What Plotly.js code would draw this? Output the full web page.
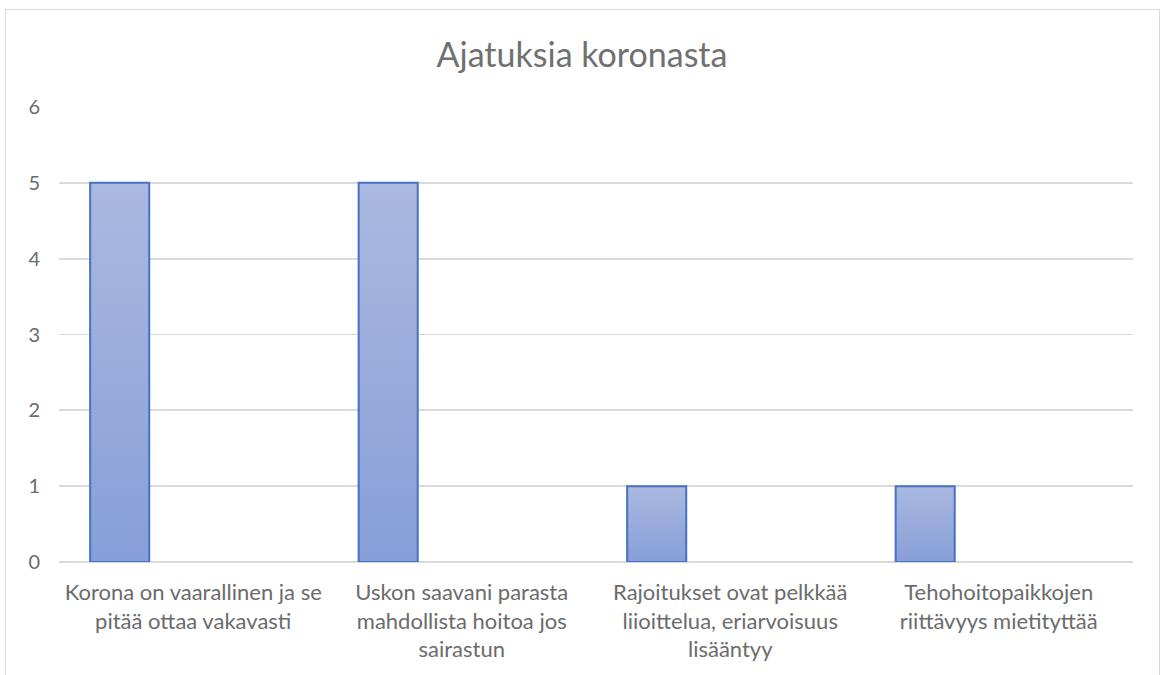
<!DOCTYPE html>
<html>
<head>
<meta charset="utf-8">
<script src="https://cdn.plot.ly/plotly-3.0.1.min.js"></script>
<style>
  html, body { margin: 0; padding: 0; background: #fff; overflow: hidden; width: 1165px; height: 675px; }
  #chart { position: absolute; left: 5px; top: 9px; width: 1155px; height: 700px;
           border: 1.5px solid #d9d9d9; box-sizing: border-box; }
</style>
</head>
<body>
<div id="chart"></div>
<script>
const chartTitle = "Ajatuksia koronasta";
const categories = [
  "Korona on vaarallinen ja se<br>pitää ottaa vakavasti",
  "Uskon saavani parasta<br>mahdollista hoitoa jos<br>sairastun",
  "Rajoitukset ovat pelkkää<br>liioittelua, eriarvoisuus<br>lisääntyy",
  "Tehohoitopaikkojen<br>riittävyys mietityttää"
];
const counts = [5, 5, 1, 1];
const yTicks = [0, 1, 2, 3, 4, 5, 6];

const FONT = "Lato, 'Open Sans', sans-serif";

const trace = {
  type: "bar",
  x: categories,
  y: counts,
  width: 0.22,
  offset: -0.384,
  marker: { color: "#98acdc", line: { color: "#4472c4", width: 2 } },
  hoverinfo: "x+y"
};

const layout = {
  width: 1152, height: 697,
  margin: { l: 53, r: 25, t: 97, b: 145 },
  paper_bgcolor: "#ffffff",
  plot_bgcolor: "#ffffff",
  showlegend: false,
  title: { text: chartTitle, x: 0.5, xanchor: "center", y: 0.935, yanchor: "middle",
           font: { family: FONT, size: 34, color: "#707070" } },
  xaxis: { type: "category", showgrid: false, zeroline: false, showline: false, ticks: "",
           tickfont: { family: FONT, size: 22, color: "#6b6b6b" }, ticklabelstandoff: 15,
           tickangle: 0 },
  yaxis: { range: [0, 6], tickvals: yTicks, showgrid: true, gridcolor: "#d9d9d9", gridwidth: 1.8,
           zeroline: true, zerolinecolor: "#d9d9d9", zerolinewidth: 1.8, showline: false, ticks: "",
           tickfont: { family: FONT, size: 20, color: "#6b6b6b" }, ticklabelstandoff: 18 },
  bargap: 0.5
};

Plotly.newPlot("chart", [trace], layout, { displayModeBar: false, staticPlot: true }).then(function (gd) {
  const svg = gd.querySelector("svg.main-svg");
  const ns = "http://www.w3.org/2000/svg";
  let defs = svg.querySelector("defs");
  if (!defs) { defs = document.createElementNS(ns, "defs"); svg.insertBefore(defs, svg.firstChild); }
  const grad = document.createElementNS(ns, "linearGradient");
  grad.setAttribute("id", "barGrad");
  grad.setAttribute("x1", "0"); grad.setAttribute("y1", "0");
  grad.setAttribute("x2", "0"); grad.setAttribute("y2", "1");
  [["0%", "#abb9e0"], ["100%", "#879ed8"]].forEach(function (s) {
    const st = document.createElementNS(ns, "stop");
    st.setAttribute("offset", s[0]); st.setAttribute("stop-color", s[1]);
    grad.appendChild(st);
  });
  defs.appendChild(grad);
  gd.querySelectorAll(".barlayer .point path").forEach(function (p) {
    p.style.fill = "url(#barGrad)";
  });
});
</script>
</body>
</html>
